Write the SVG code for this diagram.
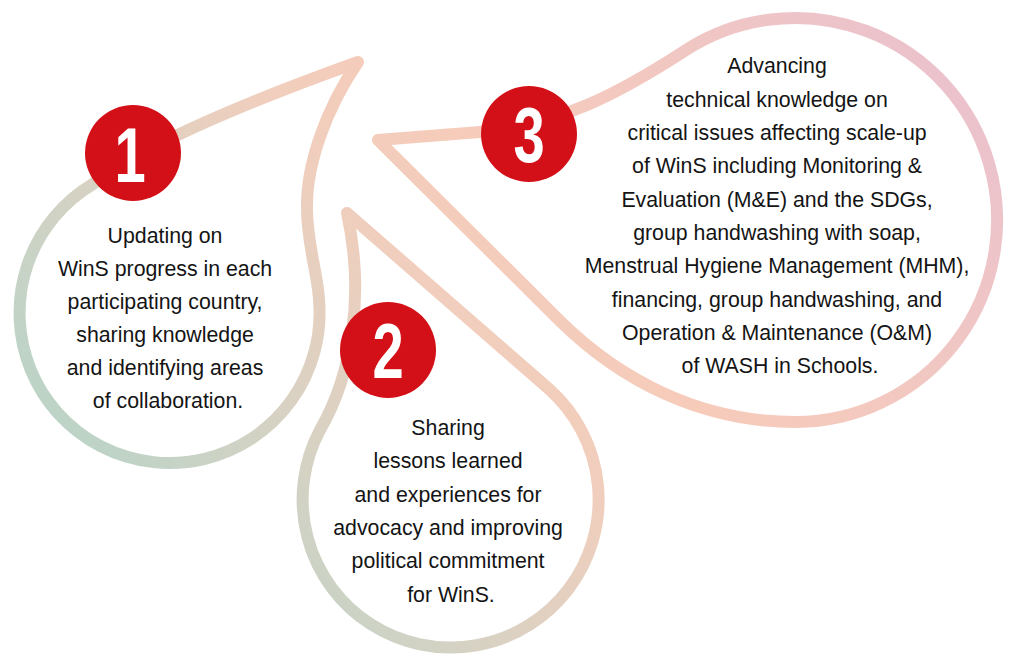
<svg xmlns="http://www.w3.org/2000/svg" width="1013" height="658" viewBox="0 0 1013 658">
  <defs>
    <linearGradient id="dropGrad" gradientUnits="userSpaceOnUse" x1="100" y1="600" x2="1000" y2="-150">
      <stop offset="0" stop-color="#afd4c6"/>
      <stop offset="0.12" stop-color="#c5d3c6"/>
      <stop offset="0.22" stop-color="#d7d2c3"/>
      <stop offset="0.38" stop-color="#f0cebd"/>
      <stop offset="0.5" stop-color="#f7cbba"/>
      <stop offset="0.68" stop-color="#f1c7c3"/>
      <stop offset="0.85" stop-color="#ebc2cc"/>
      <stop offset="1" stop-color="#eac0cd"/>
    </linearGradient>
    <style>
      .drop { fill: none; stroke: url(#dropGrad); stroke-width: 12; stroke-linejoin: round; stroke-linecap: round; }
      .badge { fill: #d31017; }
      .num { font-family: "Liberation Sans", Arial, sans-serif; font-weight: bold; font-size: 78px; fill: #ffffff; text-anchor: middle; }
      .body { font-family: "Liberation Sans", Arial, sans-serif; font-size: 21.3px; fill: #141414; text-anchor: middle; }
    </style>
  </defs>
  <rect x="0" y="0" width="1013" height="658" fill="#ffffff"/>

  <g id="node-1">
    <path class="drop" d="M 358,62 C 280,90 150,140 93,184 A 150 150 0 1 0 319,300 C 318,275 306,240 307,205 C 307,165 325,110 358,62 Z"/>
    <circle class="badge" cx="133" cy="153" r="48"/>
    <text class="num" transform="translate(130,182) scale(0.72,1)">1</text>
    <text class="body">
      <tspan x="168" y="243">Updating on</tspan>
      <tspan x="168" y="276">WinS progress in each</tspan>
      <tspan x="168" y="309">participating country,</tspan>
      <tspan x="168" y="342">sharing knowledge</tspan>
      <tspan x="168" y="375">and identifying areas</tspan>
      <tspan x="168" y="408">of collaboration.</tspan>
    </text>
  </g>

  <g id="node-2">
    <path class="drop" d="M 347,213 C 365,295 352,375 320,430 A 148 148 0 1 0 549,389 Z"/>
    <circle class="badge" cx="388" cy="350" r="48"/>
    <text class="num" transform="translate(388,378) scale(0.72,1)">2</text>
    <text class="body">
      <tspan x="451" y="435">Sharing</tspan>
      <tspan x="451" y="468.3">lessons learned</tspan>
      <tspan x="451" y="501.7">and experiences for</tspan>
      <tspan x="451" y="535">advocacy and improving</tspan>
      <tspan x="451" y="568.3">political commitment</tspan>
      <tspan x="451" y="601.7">for WinS.</tspan>
    </text>
  </g>

  <g id="node-3">
    <path class="drop" d="M 378,140 L 560,321 C 620,380 700,422 796,422 A 202 202 0 1 0 686,50 C 620,93 560,125 480,132 Z"/>
    <circle class="badge" cx="529" cy="134" r="48"/>
    <text class="num" transform="translate(529,162) scale(0.72,1)">3</text>
    <text class="body">
      <tspan x="780" y="73.3">Advancing</tspan>
      <tspan x="780" y="106.6">technical knowledge on</tspan>
      <tspan x="780" y="140">critical issues affecting scale-up</tspan>
      <tspan x="780" y="173.3">of WinS including Monitoring &amp;</tspan>
      <tspan x="780" y="206.6">Evaluation (M&amp;E) and the SDGs,</tspan>
      <tspan x="780" y="240">group handwashing with soap,</tspan>
      <tspan x="780" y="273.3">Menstrual Hygiene Management (MHM),</tspan>
      <tspan x="780" y="306.6">financing, group handwashing, and</tspan>
      <tspan x="780" y="340">Operation &amp; Maintenance (O&amp;M)</tspan>
      <tspan x="780" y="373.3">of WASH in Schools.</tspan>
    </text>
  </g>

  <g id="connectors"/>
</svg>
